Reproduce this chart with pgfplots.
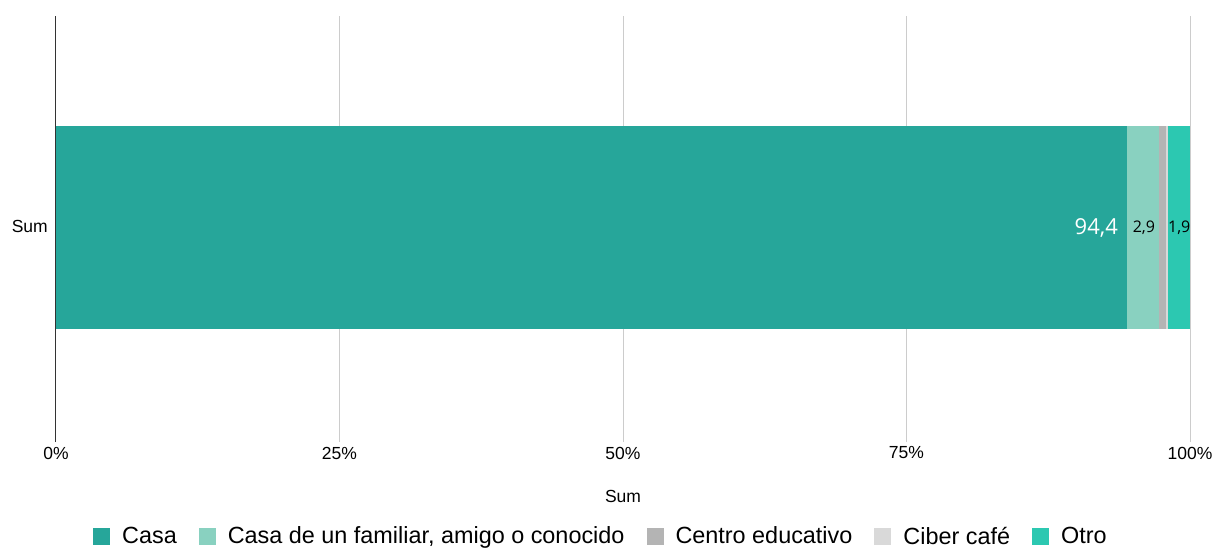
\documentclass[border=0pt]{standalone}
\usepackage{pgfplots}
\pgfplotsset{compat=1.18}
\usepackage{fontspec}
\setmainfont{Liberation Sans}
\newfontfamily\valfont{Open Sans}
\definecolor{cCasa}{HTML}{26A69A}
\definecolor{cFam}{HTML}{89D1C0}
\definecolor{cCentro}{HTML}{B4B4B4}
\definecolor{cCiber}{HTML}{D9D9D9}
\definecolor{cOtro}{HTML}{2CC8B1}
\definecolor{gridc}{HTML}{CCCCCC}
\definecolor{axc}{HTML}{333333}
\begin{document}
\begin{tikzpicture}
\path[use as bounding box] (-56pt,-113pt) rectangle (1158pt,436pt);
\begin{axis}[
  at={(0pt,0pt)}, anchor=south west,
  scale only axis, width=1134pt, height=420pt,
  xbar stacked, bar width=203pt, bar shift=-1.5pt,
  xmin=0, xmax=100, ymin=-1, ymax=1,
  ytick={0}, yticklabels={Sum},
  xtick={25,50,75,100},
  xticklabels={25\%,50\%,75\%,100\%},
  extra x ticks={0}, extra x tick labels={0\%},
  extra x tick style={grid style={color=axc, line width=1pt}, x tick style={color=axc, line width=1pt}},
  axis line style={draw=none},
  xmajorgrids, grid style={color=gridc, line width=1pt},
  y tick style={draw=none},
  xtick pos=bottom, tick align=outside, major tick length=6pt,
  x tick style={color=gridc, line width=1pt},
  tick label style={font=\fontsize{17.5}{20}\selectfont, inner sep=0pt},
  xticklabel style={anchor=center, yshift=-11pt},
  yticklabel style={anchor=east, xshift=-2pt},
  xlabel={Sum},
  xlabel style={font=\fontsize{17.5}{20}\selectfont, at={(axis description cs:0.5,0)}, anchor=center, yshift=-60pt, inner sep=0pt},
  legend columns=-1,
  legend style={draw=none, fill=none, at={(axis description cs:0.4805,-0.2386)}, anchor=center,
    font=\fontsize{23.4}{26}\selectfont,
    /tikz/every odd column/.append style={column sep=10pt},
    /tikz/every even column/.append style={column sep=20pt}},
  legend image code/.code={\fill[#1] (0pt,-8.5pt) rectangle (17pt,8.5pt);},
  point meta=explicit symbolic,
]
\addplot[fill=cCasa, draw=none, nodes near coords,
  nodes near coords style={anchor=east, xshift=526.8pt, inner sep=0pt, text=white, font=\valfont\fontsize{22}{24}\selectfont}]
  coordinates {(94.4,0) [{94,4}]};
\addlegendentry{Casa}
\addplot[fill=cFam, draw=none, nodes near coords,
  nodes near coords style={anchor=center, xshift=1pt, inner sep=0pt, text=black, font=\valfont\fontsize{16}{18}\selectfont}]
  coordinates {(2.9,0) [{2,9}]};
\addlegendentry{Casa de un familiar, amigo o conocido}
\addplot[fill=cCentro, draw=none] coordinates {(0.6,0) [x]};
\addlegendentry{Centro educativo}
\addplot[fill=cCiber, draw=none] coordinates {(0.2,0) [x]};
\addlegendentry{Ciber café}
\addplot[fill=cOtro, draw=none, nodes near coords,
  nodes near coords style={anchor=center, xshift=0pt, inner sep=0pt, text=black, font=\valfont\fontsize{16}{18}\selectfont}]
  coordinates {(1.9,0) [{1,9}]};
\addlegendentry{Otro}
\end{axis}
\end{tikzpicture}
\end{document}
